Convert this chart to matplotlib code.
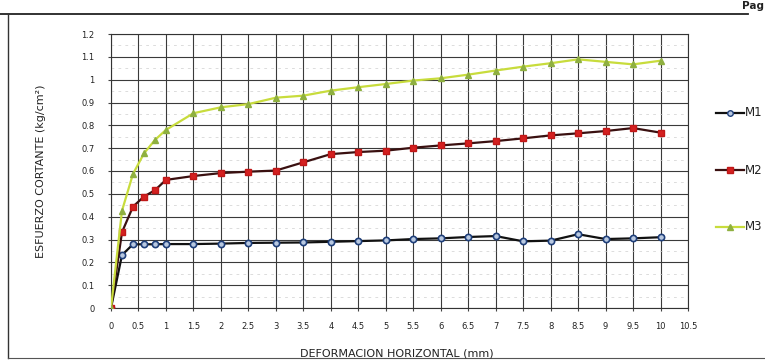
import matplotlib
matplotlib.use("Agg")
import matplotlib.pyplot as plt
from matplotlib.lines import Line2D
import numpy as np

# Horizontal deformation (mm)
deformacion = [0, 0.2, 0.4, 0.6, 0.8, 1.0, 1.5, 2, 2.5, 3, 3.5, 4, 4.5, 5,
               5.5, 6, 6.5, 7, 7.5, 8, 8.5, 9, 9.5, 10]

# Shear stress (kg/cm2) for each sample
m1 = [0, 0.232, 0.279, 0.279, 0.279, 0.280, 0.280, 0.282, 0.285, 0.286, 0.287,
      0.290, 0.293, 0.296, 0.302, 0.305, 0.311, 0.315, 0.292, 0.295, 0.323,
      0.302, 0.305, 0.310]
m2 = [0, 0.332, 0.444, 0.488, 0.516, 0.561, 0.578, 0.591, 0.597, 0.602, 0.638,
      0.674, 0.683, 0.689, 0.702, 0.712, 0.721, 0.731, 0.743, 0.756, 0.765,
      0.775, 0.788, 0.768]
m3 = [0, 0.426, 0.587, 0.677, 0.736, 0.780, 0.853, 0.879, 0.893, 0.921, 0.930,
      0.952, 0.967, 0.981, 0.996, 1.006, 1.022, 1.040, 1.057, 1.072, 1.089,
      1.078, 1.067, 1.083]

series_names = ["M1", "M2", "M3"]
x_ticks = np.arange(0, 10.51, 0.5)
y_ticks = np.arange(0, 1.21, 0.1)

W, H = 765, 364
fig = plt.figure(figsize=(W / 100, H / 100), dpi=100)
fig.patch.set_facecolor("white")

# page frame lines
fig.add_artist(Line2D([0, 748 / W], [1 - 14 / H, 1 - 14 / H], color="#222222", lw=1.3))
fig.add_artist(Line2D([8 / W, 8 / W], [1 - 14 / H, 1 - 358 / H], color="#333333", lw=1.0))
fig.add_artist(Line2D([8 / W, 1], [1 - 358 / H, 1 - 358 / H], color="#555555", lw=0.8))
fig.text(764 / W, 1 - 6 / H, "Pag", fontsize=7.5, fontweight="bold", color="#222222",
         va="center", ha="right")

ax = fig.add_axes([111 / W, 1 - 308 / H, (688 - 111) / W, (308 - 34) / H])
ax.set_xlim(0, 10.5)
ax.set_ylim(0, 1.2)
ax.set_xticks(x_ticks)
ax.set_yticks(y_ticks)
ax.set_xticklabels([f"{v:g}" for v in x_ticks])
ax.set_yticklabels([f"{v:g}" for v in np.round(y_ticks, 1)])
ax.tick_params(labelsize=6, length=2, color="#444444", labelcolor="#222222")
ax.tick_params(axis="x", pad=8)
ax.tick_params(axis="y", pad=10)

# minor dashed rules between the main grid
ax.set_yticks(np.arange(0, 1.21, 0.05), minor=True)
ax.tick_params(which="minor", length=0)
ax.grid(which="minor", axis="y", color="#cfcfcf", lw=0.5, ls=(0, (4, 6)))
ax.grid(which="major", color="#3a3a3a", lw=0.8)
ax.set_axisbelow(True)
for s in ax.spines.values():
    s.set_color("#333333")
    s.set_linewidth(0.8)

l1, = ax.plot(deformacion, m1, color="#111111", lw=1.6, marker="o", ms=4.5,
              mfc="#b8c8e0", mec="#1f3f7a", mew=1.2, zorder=4)
l2, = ax.plot(deformacion, m2, color="#3a1010", lw=1.6, marker="s", ms=5,
              mfc="#d42020", mec="#c01818", zorder=4)
l3, = ax.plot(deformacion, m3, color="#c8dc3c", lw=1.6, marker="^", ms=4.5,
              mfc="#8fb040", mec="#8fb040", zorder=5)

ax.set_ylabel("ESFUERZO CORTANTE (kg/cm²)", fontsize=8, color="#222222")
ax.yaxis.set_label_coords(-0.113, 0.5)
fig.text(397 / W, 1 - 353 / H, "DEFORMACION HORIZONTAL (mm)", fontsize=8,
         ha="center", va="center", color="#222222")

# legend drawn at the right edge of the page
for line, name, yy in zip([l1, l2, l3], series_names, [113, 170, 227]):
    yf = 1 - yy / H
    fig.add_artist(Line2D([716 / W, 744 / W], [yf, yf], color=line.get_color(), lw=1.6))
    fig.add_artist(Line2D([730 / W], [yf], marker=line.get_marker(), ms=4,
                          mfc=line.get_markerfacecolor(), mec=line.get_markeredgecolor(),
                          ls="none"))
    fig.text(745 / W, yf, name, fontsize=8.5, ha="left", va="center", color="#222222")

fig.savefig("out.png", dpi=100)
